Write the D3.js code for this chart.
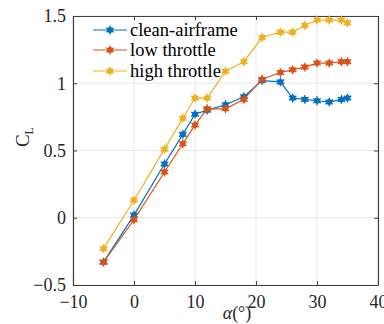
<!DOCTYPE html>
<html>
<head>
<meta charset="utf-8">
<script src="https://cdn.jsdelivr.net/npm/d3@7"></script>
<style>
  body { margin: 0; background: #fff; }
  text { font-family: "Liberation Serif", "Times New Roman", serif; }
</style>
</head>
<body>
<div id="chart"></div>
<script>
// angle of attack (deg)
var alpha = [-5, 0, 5, 8, 10, 12, 15, 18, 21, 24, 26, 28, 30, 32, 34, 35];
var seriesNames = ["clean-airframe", "low throttle", "high throttle"];
var cleanCL = [-0.33, 0.02, 0.40, 0.62, 0.77, 0.80, 0.84, 0.90, 1.02, 1.01, 0.89, 0.88, 0.87, 0.86, 0.88, 0.89];
var lowCL = [-0.33, -0.015, 0.34, 0.55, 0.69, 0.81, 0.81, 0.88, 1.03, 1.08, 1.10, 1.12, 1.15, 1.15, 1.16, 1.16];
var highCL = [-0.23, 0.13, 0.51, 0.74, 0.89, 0.89, 1.09, 1.16, 1.34, 1.38, 1.38, 1.43, 1.47, 1.47, 1.47, 1.45];
var xTicks = [-10, 0, 10, 20, 30, 40];
var yTicks = [-0.5, 0, 0.5, 1, 1.5];
var colors = ["#0072BD", "#D95319", "#EDB120"];

var width = 384, height = 324;
var margin = { left: 73, right: 6, top: 16, bottom: 39 };

var svg = d3.select("#chart").append("svg")
    .attr("width", width)
    .attr("height", height);

var x = d3.scaleLinear().domain([-10, 40]).range([margin.left, width - margin.right]);
var y = d3.scaleLinear().domain([-0.5, 1.5]).range([height - margin.bottom, margin.top]);

// grid
svg.append("g").selectAll("line").data(xTicks).join("line")
    .attr("x1", d => x(d)).attr("x2", d => x(d))
    .attr("y1", y(-0.5)).attr("y2", y(1.5))
    .style("stroke", "#e6e6e6").style("stroke-width", 1);
svg.append("g").selectAll("line").data(yTicks).join("line")
    .attr("x1", x(-10)).attr("x2", x(40))
    .attr("y1", d => y(d)).attr("y2", d => y(d))
    .style("stroke", "#e6e6e6").style("stroke-width", 1);

// axes (ticks inside, box on)
var fmt = d => d < 0 ? "\u2212" + Math.abs(d) : String(d);

var axes = [];
axes.push(svg.append("g")
    .attr("transform", "translate(0," + y(-0.5) + ")")
    .call(d3.axisBottom(x).tickValues(xTicks).tickSizeInner(-4).tickSizeOuter(0).tickPadding(10).tickFormat(fmt)));
axes.push(svg.append("g")
    .attr("transform", "translate(" + x(-10) + ",0)")
    .call(d3.axisLeft(y).tickValues(yTicks).tickSizeInner(-4).tickSizeOuter(0).tickPadding(7).tickFormat(fmt)));
axes.push(svg.append("g")
    .attr("transform", "translate(0," + y(1.5) + ")")
    .call(d3.axisTop(x).tickValues(xTicks).tickSizeInner(-4).tickSizeOuter(0).tickFormat("")));
axes.push(svg.append("g")
    .attr("transform", "translate(" + x(40) + ",0)")
    .call(d3.axisRight(y).tickValues(yTicks).tickSizeInner(-4).tickSizeOuter(0).tickFormat("")));

axes.forEach(function(a) {
    a.attr("font-family", "Liberation Serif, serif").attr("font-size", 18);
    a.select(".domain").style("stroke", "#404040").style("stroke-width", 1.2);
    a.selectAll(".tick line").style("stroke", "#404040");
    a.selectAll(".tick text").style("fill", "#262626");
});

// axis labels
svg.append("text")
    .attr("x", 237).attr("y", 319)
    .attr("text-anchor", "middle")
    .style("font-size", "18px").style("fill", "#262626")
    .call(t => {
        t.append("tspan").style("font-style", "italic").text("\u03b1");
        t.append("tspan").text("(\u00b0)");
    });

svg.append("text")
    .attr("transform", "translate(29," + y(0.6) + ") rotate(-90)")
    .attr("text-anchor", "middle")
    .style("font-size", "19px").style("fill", "#262626")
    .call(t => {
        t.append("tspan").text("C");
        t.append("tspan").attr("dy", 4).style("font-size", "12px").text("L");
    });

// series
var allSeries = [cleanCL, lowCL, highCL];
var line = d3.line().x((d, i) => x(alpha[i])).y(d => y(d));
var star = d3.symbol().type(d3.symbolAsterisk).size(55);

function drawMarker(g, cx, cy, color) {
    g.append("circle").attr("cx", cx).attr("cy", cy).attr("r", 3).style("fill", color);
    g.append("path").attr("d", star).attr("transform", "translate(" + cx + "," + cy + ")")
        .style("fill", "none").style("stroke", color).style("stroke-width", 1.3);
}

allSeries.forEach(function(vals, k) {
    var g = svg.append("g");
    g.append("path").datum(vals).attr("d", line)
        .style("fill", "none").style("stroke", colors[k]).style("stroke-width", 1.2);
    vals.forEach(function(v, i) {
        drawMarker(g, x(alpha[i]), y(v), colors[k]);
    });
});

// legend
var legendY = [30, 50, 71];
seriesNames.forEach(function(name, k) {
    var g = svg.append("g");
    g.append("line").attr("x1", 93).attr("x2", 127).attr("y1", legendY[k]).attr("y2", legendY[k])
        .style("stroke", colors[k]).style("stroke-width", 1.2);
    drawMarker(g, 110, legendY[k], colors[k]);
    g.append("text").attr("x", 130).attr("y", legendY[k] + 6)
        .style("font-size", "18.5px").style("fill", "#000").text(name);
});
</script>
</body>
</html>
